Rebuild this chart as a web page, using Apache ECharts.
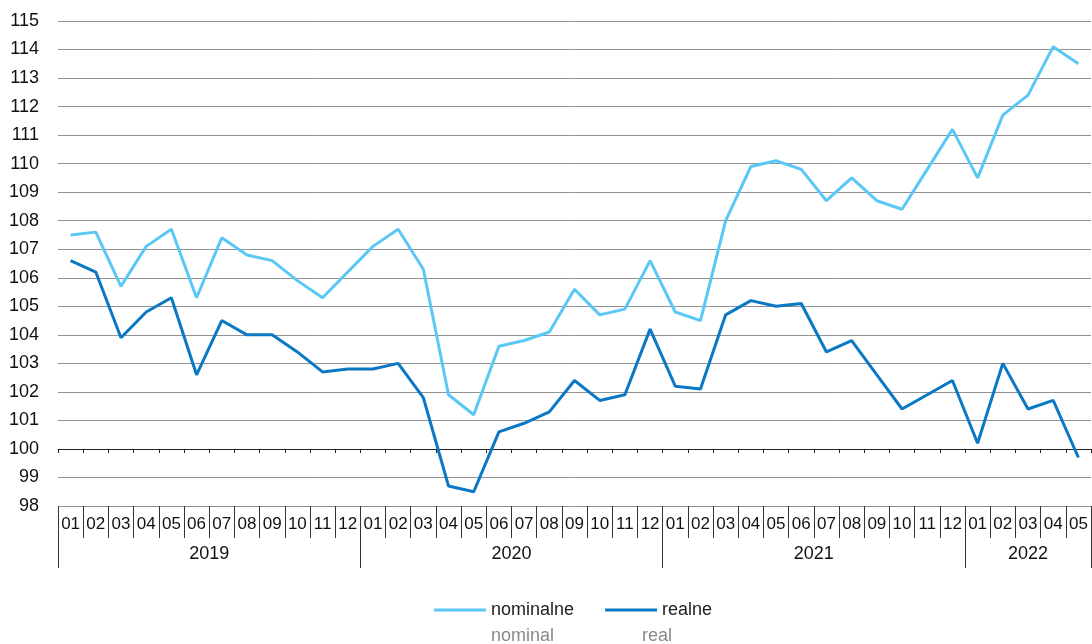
<!DOCTYPE html>
<html>
<head>
<meta charset="utf-8">
<script src="https://cdn.jsdelivr.net/npm/echarts@6/dist/echarts.min.js"></script>
<style>
  html, body { margin: 0; padding: 0; background: #fff; }
  #chart { width: 1092px; height: 644px; }
</style>
</head>
<body>
<div id="chart"></div>
<script>
  // miesiące 2019-01 .. 2022-05
  var months = [
    '01', '02', '03', '04', '05', '06', '07', '08', '09', '10', '11', '12',
    '01', '02', '03', '04', '05', '06', '07', '08', '09', '10', '11', '12',
    '01', '02', '03', '04', '05', '06', '07', '08', '09', '10', '11', '12',
    '01', '02', '03', '04', '05'
  ];
  var years = ['2019', '2020', '2021', '2022'];
  var yearLength = [12, 12, 12, 5];

  var nominal = [
    107.5, 107.6, 105.7, 107.1, 107.7, 105.3, 107.4, 106.8, 106.6, 105.9, 105.3, 106.2,
    107.1, 107.7, 106.3, 101.9, 101.2, 103.6, 103.8, 104.1, 105.6, 104.7, 104.9, 106.6,
    104.8, 104.5, 108.0, 109.9, 110.1, 109.8, 108.7, 109.5, 108.7, 108.4, 109.8, 111.2,
    109.5, 111.7, 112.4, 114.1, 113.5
  ];
  var real = [
    106.6, 106.2, 103.9, 104.8, 105.3, 102.6, 104.5, 104.0, 104.0, 103.4, 102.7, 102.8,
    102.8, 103.0, 101.8, 98.7, 98.5, 100.6, 100.9, 101.3, 102.4, 101.7, 101.9, 104.2,
    102.2, 102.1, 104.7, 105.2, 105.0, 105.1, 103.4, 103.8, 102.6, 101.4, 101.9, 102.4,
    100.2, 103.0, 101.4, 101.7, 99.7
  ];
  var seriesNames = ['nominalne', 'realne'];
  var seriesNamesEn = { nominalne: 'nominal', realne: 'real' };
  var colors = ['#5ac8f5', '#0a78c4'];

  // granice i środki lat na osi wartości 0..liczba miesięcy
  var yearEdges = [0];
  var yearMid = [];
  yearLength.forEach(function(n) {
    var start = yearEdges[yearEdges.length - 1];
    yearMid.push(start + n / 2);
    yearEdges.push(start + n);
  });

  var font = '"Liberation Sans", Arial, sans-serif';

  var chart = echarts.init(document.getElementById('chart'));
  chart.setOption({
    animation: false,
    backgroundColor: '#fff',
    color: colors,
    grid: {
      left: 58,
      right: 1,
      top: 21,
      bottom: 138,
      containLabel: false,
      outerBoundsMode: 'none'
    },
    legend: [
      {
        data: seriesNames,
        left: 429,
        top: 596,
        icon: 'rect',
        itemWidth: 52,
        itemHeight: 3,
        itemGap: 31,
        selectedMode: false,
        textStyle: {
          fontFamily: font,
          fontSize: 18,
          color: '#222',
          width: 88,
          overflow: 'none'
        }
      },
      {
        data: seriesNames,
        left: 429,
        top: 622,
        icon: 'none',
        itemWidth: 52,
        itemHeight: 3,
        itemGap: 31,
        selectedMode: false,
        formatter: function(name) {
          return seriesNamesEn[name];
        },
        textStyle: {
          fontFamily: font,
          fontSize: 18,
          color: '#8a8a8a',
          width: 88,
          overflow: 'none'
        }
      }
    ],
    xAxis: [
      {
        // oś na poziomie 100
        type: 'category',
        position: 'bottom',
        data: months,
        offset: -57,
        axisLine: { show: true, lineStyle: { color: '#222', width: 1 } },
        axisTick: { show: true, interval: 0, length: 4, lineStyle: { color: '#222' } },
        axisLabel: { show: false },
        splitLine: { show: false }
      },
      {
        // miesiące
        type: 'category',
        position: 'bottom',
        data: months,
        axisLine: { show: false },
        axisTick: { show: true, interval: 0, length: 32, lineStyle: { color: '#333' } },
        axisLabel: {
          interval: 0,
          margin: 10,
          fontFamily: font,
          fontSize: 17,
          color: '#111'
        },
        splitLine: { show: false }
      },
      {
        // lata
        type: 'value',
        position: 'bottom',
        min: 0,
        max: months.length,
        axisLine: { show: false },
        axisTick: {
          show: true,
          customValues: yearEdges,
          length: 62,
          lineStyle: { color: '#333' }
        },
        axisLabel: {
          customValues: yearMid,
          margin: 39,
          fontFamily: font,
          fontSize: 18,
          color: '#111',
          formatter: function(v) {
            return years[yearMid.indexOf(v)];
          }
        },
        splitLine: { show: false }
      }
    ],
    yAxis: {
      type: 'value',
      min: 98,
      max: 115,
      interval: 1,
      axisLine: { show: false },
      axisTick: { show: false },
      axisLabel: {
        margin: 19,
        fontFamily: font,
        fontSize: 18,
        color: '#111'
      },
      splitLine: { lineStyle: { color: '#929292', width: 1 } }
    },
    series: [
      {
        name: seriesNames[0],
        type: 'line',
        xAxisIndex: 1,
        data: nominal,
        symbol: 'none',
        lineStyle: { color: colors[0], width: 3 },
        itemStyle: { color: colors[0] }
      },
      {
        name: seriesNames[1],
        type: 'line',
        xAxisIndex: 1,
        data: real,
        symbol: 'none',
        lineStyle: { color: colors[1], width: 3 },
        itemStyle: { color: colors[1] }
      }
    ]
  });
</script>
</body>
</html>
